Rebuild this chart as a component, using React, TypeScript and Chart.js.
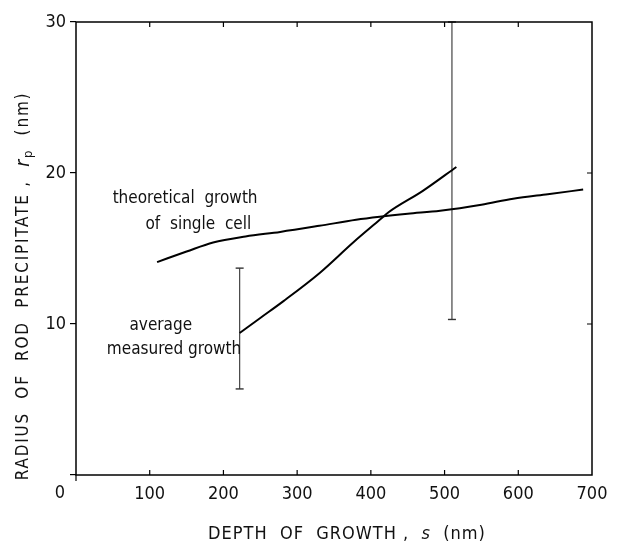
import React, { useEffect, useRef } from 'react';
import { Chart, registerables } from 'chart.js';

Chart.register(...registerables);

// ---- data ----
const theoryX = [110, 150, 186, 230, 277, 330, 380, 412, 450, 494, 550, 593, 640, 688];
const theoryY = [14.1, 14.8, 15.4, 15.8, 16.1, 16.5, 16.9, 17.1, 17.3, 17.5, 17.9, 18.3, 18.6, 18.9];

const measuredX = [222, 250, 281, 331, 376, 412, 424, 470, 516];
const measuredY = [9.4, 10.4, 11.5, 13.4, 15.4, 16.9, 17.4, 18.8, 20.4];

const errorX = [222, 510];
const errorLow = [5.7, 10.3];
const errorHigh = [13.7, 30];

const xTicks = [0, 100, 200, 300, 400, 500, 600, 700];
const yTicks = [0, 10, 20, 30];

const xTitleParts = ['DEPTH  OF  GROWTH ,  ', 's', '  (nm)'];
const yTitleParts = ['RADIUS  OF  ROD  PRECIPITATE ,  ', 'r', 'p', '  (nm)'];

const theoryLabel = ['theoretical  growth', 'of  single  cell'];
const measuredLabel = ['average', 'measured growth'];

const FONT = "'Liberation Sans Narrow', 'DejaVu Sans Condensed', 'Liberation Sans', sans-serif";
const INK = '#111';

type Seg = { t: string; italic?: boolean; size?: number; dy?: number };

function drawRich(ctx: CanvasRenderingContext2D, segs: Seg[], cx: number, cy: number, base: number, spacing: string) {
  ctx.save();
  (ctx as any).letterSpacing = spacing;
  ctx.textBaseline = 'middle';
  ctx.textAlign = 'left';
  const fontOf = (s: Seg) => `${s.italic ? 'italic ' : ''}${s.size ?? base}px ${FONT}`;
  let total = 0;
  const widths = segs.map((s) => {
    ctx.font = fontOf(s);
    const w = ctx.measureText(s.t).width;
    total += w;
    return w;
  });
  let x = cx - total / 2;
  segs.forEach((s, i) => {
    ctx.font = fontOf(s);
    ctx.fillStyle = INK;
    ctx.fillText(s.t, x, cy + (s.dy ?? 0));
    x += widths[i];
  });
  ctx.restore();
}

const framePlugin = {
  id: 'frameAndText',
  afterDraw(chart: any) {
    const { ctx, chartArea: a, scales } = chart;
    const xs = scales.x;
    const ys = scales.y;
    ctx.save();
    ctx.strokeStyle = '#000';
    ctx.lineWidth = 1.5;
    ctx.strokeRect(a.left, a.top, a.right - a.left, a.bottom - a.top);
    ctx.lineWidth = 1.2;
    ctx.beginPath();
    xTicks.forEach((v) => {
      const px = xs.getPixelForValue(v);
      if (v === 0) {
        ctx.moveTo(px, a.bottom);
        ctx.lineTo(px, a.bottom + 6);
        return;
      }
      if (v === 700) return;
      ctx.moveTo(px, a.bottom);
      ctx.lineTo(px, a.bottom - 5);
      ctx.moveTo(px, a.top);
      ctx.lineTo(px, a.top + 5);
    });
    yTicks.forEach((v) => {
      if (v === 0 || v === 30) return;
      const py = ys.getPixelForValue(v);
      ctx.moveTo(a.right, py);
      ctx.lineTo(a.right - 5, py);
    });
    ctx.stroke();

    // origin label
    ctx.font = `18px ${FONT}`;
    ctx.fillStyle = INK;
    ctx.textAlign = 'center';
    ctx.textBaseline = 'top';
    ctx.fillText('0', a.left - 16, a.bottom + 9);

    // annotations (anchored in data coordinates)
    ctx.textBaseline = 'middle';
    ctx.font = `17px ${FONT}`;
    ctx.fillText(theoryLabel[0], xs.getPixelForValue(148), ys.getPixelForValue(18.3));
    ctx.fillText(theoryLabel[1], xs.getPixelForValue(166), ys.getPixelForValue(16.6));
    ctx.fillText(measuredLabel[0], xs.getPixelForValue(115), ys.getPixelForValue(9.9));
    ctx.fillText(measuredLabel[1], xs.getPixelForValue(133), ys.getPixelForValue(8.3));
    ctx.restore();

    // axis titles
    drawRich(
      ctx,
      [{ t: xTitleParts[0] }, { t: xTitleParts[1], italic: true }, { t: xTitleParts[2] }],
      347,
      a.bottom + 59,
      18,
      '1px'
    );
    ctx.save();
    ctx.translate(24, 286);
    ctx.rotate(-Math.PI / 2);
    drawRich(
      ctx,
      [
        { t: yTitleParts[0] },
        { t: yTitleParts[1], italic: true, size: 19 },
        { t: yTitleParts[2], size: 13, dy: 5 },
        { t: yTitleParts[3] },
      ],
      0,
      0,
      17,
      '1.8px'
    );
    ctx.restore();
  },
};

function errorBar(i: number) {
  return {
    type: 'line' as const,
    data: [
      { x: errorX[i], y: errorLow[i] },
      { x: errorX[i], y: errorHigh[i] },
    ],
    borderColor: '#444',
    borderWidth: 1.2,
    pointStyle: 'line' as const,
    pointRadius: 4,
    pointBorderWidth: 1.4,
    pointBorderColor: '#333',
    clip: false as any,
  };
}

export default function App() {
  const ref = useRef<HTMLCanvasElement | null>(null);
  useEffect(() => {
    if (!ref.current) return;
    const chart = new Chart(ref.current, {
      type: 'line',
      data: {
        datasets: [
          {
            data: theoryX.map((x, i) => ({ x, y: theoryY[i] })),
            borderColor: '#000',
            borderWidth: 2,
            pointRadius: 0,
            cubicInterpolationMode: 'monotone',
          },
          {
            data: measuredX.map((x, i) => ({ x, y: measuredY[i] })),
            borderColor: '#000',
            borderWidth: 2,
            pointRadius: 0,
            cubicInterpolationMode: 'monotone',
          },
          errorBar(0),
          errorBar(1),
        ] as any,
      },
      options: {
        animation: false,
        responsive: false,
        devicePixelRatio: 1,
        layout: { padding: { top: 22, right: 26, left: 0, bottom: 0 } },
        plugins: { legend: { display: false }, tooltip: { enabled: false } },
        scales: {
          x: {
            type: 'linear',
            min: 0,
            max: 700,
            afterBuildTicks: (s: any) => {
              s.ticks = xTicks.map((v) => ({ value: v }));
            },
            afterFit: (s: any) => {
              s.height = 69;
            },
            ticks: {
              callback: (v: any) => (v === 0 ? '' : String(v)),
              font: { family: FONT, size: 18 },
              color: INK,
              padding: 9,
              maxRotation: 0,
              autoSkip: false,
            },
            grid: { display: false, drawTicks: false },
            border: { display: false },
          },
          y: {
            type: 'linear',
            min: 0,
            max: 30,
            afterBuildTicks: (s: any) => {
              s.ticks = yTicks.map((v) => ({ value: v }));
            },
            afterFit: (s: any) => {
              s.width = 76;
            },
            ticks: {
              callback: (v: any) => (v === 0 ? '' : String(v)),
              font: { family: FONT, size: 18 },
              color: INK,
              padding: 4,
            },
            grid: { display: true, drawOnChartArea: false, drawTicks: true, tickLength: 6, color: '#000', lineWidth: 1.2 },
            border: { display: false },
          },
        },
      },
      plugins: [framePlugin],
    });
    return () => chart.destroy();
  }, []);
  return (
    <div style={{ position: 'fixed', left: 0, top: 0, width: 618, height: 544, background: '#fff' }}>
      <canvas ref={ref} width={618} height={544} style={{ width: 618, height: 544, display: 'block' }} />
    </div>
  );
}
